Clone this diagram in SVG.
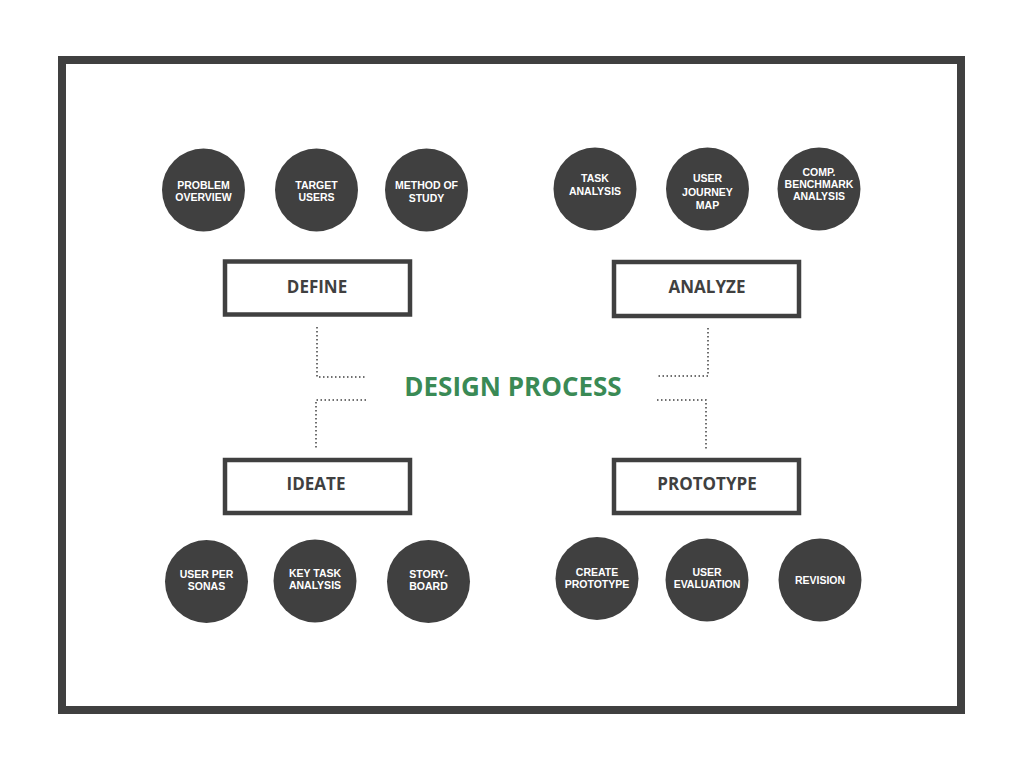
<svg xmlns="http://www.w3.org/2000/svg" width="1024" height="768" viewBox="0 0 1024 768">
<style>
.frame{fill:none;stroke:#404040;stroke-width:8}
.box{fill:#fff;stroke:#404040;stroke-width:4.5}
.boxt{font-family:"Open Sans","Liberation Sans",sans-serif;font-weight:700;font-size:17px;fill:#404040;text-anchor:middle}
.c{fill:#404040}
.ct{font-family:"Liberation Sans","Open Sans",sans-serif;font-weight:700;font-size:10.5px;fill:#fff;text-anchor:middle}
.dot{fill:none;stroke:#404040;stroke-width:1.5;stroke-dasharray:1.5 2.5}
.title{font-family:"Open Sans","Liberation Sans",sans-serif;font-weight:700;font-size:26px;fill:#3a8a55;text-anchor:middle}
</style>
<rect width="1024" height="768" fill="#fff"/>
<rect class="frame" x="62" y="60" width="899" height="650"/>
<g id="connectors">
<polyline class="dot" points="317,327 317,377 366,377"/>
<polyline class="dot" points="366,400 316,400 316,448"/>
<polyline class="dot" points="708,328 708,376 657,376"/>
<polyline class="dot" points="657,400 706,400 706,449"/>
</g>
<g id="title"><text class="title" x="513" y="396">DESIGN PROCESS</text></g>
<g id="define"><rect class="box" x="225" y="261.5" width="185" height="53"/><text class="boxt" x="317" y="293">DEFINE</text></g>
<g id="analyze"><rect class="box" x="614" y="262" width="185" height="54"/><text class="boxt" x="707" y="293">ANALYZE</text></g>
<g id="ideate"><rect class="box" x="225" y="460" width="185" height="53"/><text class="boxt" x="316" y="490">IDEATE</text></g>
<g id="prototype"><rect class="box" x="614" y="460" width="185" height="53"/><text class="boxt" x="707" y="490">PROTOTYPE</text></g>
<g id="problem-overview"><circle class="c" cx="203.5" cy="190" r="41.5"/><text class="ct" x="203.5" y="189">PROBLEM</text><text class="ct" x="203.5" y="201">OVERVIEW</text></g>
<g id="target-users"><circle class="c" cx="316.5" cy="190" r="41.5"/><text class="ct" x="316.5" y="189">TARGET</text><text class="ct" x="316.5" y="201">USERS</text></g>
<g id="method-of-study"><circle class="c" cx="426.5" cy="190" r="41.5"/><text class="ct" x="426.5" y="189">METHOD OF</text><text class="ct" x="426.5" y="202">STUDY</text></g>
<g id="task-analysis"><circle class="c" cx="595" cy="189" r="41.5"/><text class="ct" x="595" y="182">TASK</text><text class="ct" x="595" y="195">ANALYSIS</text></g>
<g id="user-journey-map"><circle class="c" cx="707.5" cy="189" r="41.5"/><text class="ct" x="707.5" y="182">USER</text><text class="ct" x="707.5" y="196">JOURNEY</text><text class="ct" x="707.5" y="209">MAP</text></g>
<g id="comp-benchmark"><circle class="c" cx="819" cy="189" r="41.5"/><text class="ct" x="819" y="176">COMP.</text><text class="ct" x="819" y="188">BENCHMARK</text><text class="ct" x="819" y="200">ANALYSIS</text></g>
<g id="user-personas"><circle class="c" cx="206.5" cy="581.5" r="41.5"/><text class="ct" x="206.5" y="578">USER PER</text><text class="ct" x="206.5" y="590">SONAS</text></g>
<g id="key-task-analysis"><circle class="c" cx="315" cy="581" r="41.5"/><text class="ct" x="315" y="577">KEY TASK</text><text class="ct" x="315" y="589">ANALYSIS</text></g>
<g id="storyboard"><circle class="c" cx="428.5" cy="581.5" r="41.5"/><text class="ct" x="428.5" y="578">STORY-</text><text class="ct" x="428.5" y="590">BOARD</text></g>
<g id="create-prototype"><circle class="c" cx="597" cy="578.5" r="41.5"/><text class="ct" x="597" y="576">CREATE</text><text class="ct" x="597" y="588">PROTOTYPE</text></g>
<g id="user-evaluation"><circle class="c" cx="707" cy="580" r="41.5"/><text class="ct" x="707" y="576">USER</text><text class="ct" x="707" y="588">EVALUATION</text></g>
<g id="revision"><circle class="c" cx="820" cy="580" r="41.5"/><text class="ct" x="820" y="584">REVISION</text></g>
</svg>
